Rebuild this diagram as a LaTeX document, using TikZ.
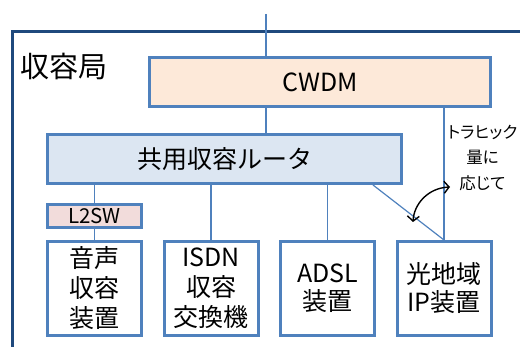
\documentclass[tikz,border=0pt]{standalone}
\usepackage{fontspec}
\setmainfont{Noto Sans CJK JP}
\newfontfamily\notefont{Noto Sans CJK JP}[RawFeature=+palt]
\usetikzlibrary{arrows.meta}
\definecolor{edgeblue}{HTML}{4F81BD}
\definecolor{framenavy}{HTML}{1F497D}
\definecolor{peach}{HTML}{FDE9D9}
\definecolor{paleblue}{HTML}{DCE6F2}
\definecolor{palepink}{HTML}{F2DCDB}

\begin{document}
\begin{tikzpicture}[
    x=1pt, y=-1pt,
    node distance=116.5pt,
    unit/.style={draw=edgeblue, line width=3pt, rectangle, inner sep=0pt, text=black},
    equip/.style={unit, fill=white, minimum width=94pt, minimum height=94pt, align=center, font=\fontsize{25}{30}\selectfont},
    link/.style={draw=edgeblue, line width=1.2pt},
    swing/.style={{Straight Barb[length=5pt,width=12pt]}-{Straight Barb[length=5pt,width=12pt]}, line width=1.4pt}
]
    \useasboundingbox (0,0) rectangle (520,347);
    \clip (0,0) rectangle (520,347);

    % Office frame and its title
    \draw[framenavy, line width=3pt] (12,365) |- (535,32);
    \node[anchor=west, font=\fontsize{29}{30}\selectfont] (office) at (17,66) {収容局};

    % Place nodes
    \node[unit, fill=peach, minimum width=341pt, minimum height=49pt, font=\fontsize{25}{30}\selectfont] (cwdm) at (320,82) {CWDM};
    \node[unit, fill=paleblue, minimum width=354pt, minimum height=49pt, font=\fontsize{25}{30}\selectfont] (router) at (224.5,159) {共用収容ルータ};
    \node[equip] (voice) at (94.5,288.5) {音声\\収容\\装置};
    \node[equip, right of=voice] (isdn) {ISDN\\収容\\交換機};
    \node[equip, right of=isdn, font=\fontsize{25}{28}\selectfont] (adsl) {ADSL\\装置};
    \node[equip, right of=adsl, font=\fontsize{25}{28}\selectfont] (optical) {光地域\\IP装置};
    \node[unit, fill=palepink, minimum width=94pt, minimum height=23pt, font=\fontsize{20.5}{22}\selectfont] (l2sw) at (94.5,216) {L2SW};
    \node[align=center, inner sep=0pt, font=\notefont\fontsize{16.5}{25.5}\selectfont] (note) at (482.5,158) {トラヒック\\量に\\応じて};

    % Free ends
    \coordinate (uplink) at (266,14);
    \coordinate (swingA) at (413,222);
    \coordinate (swingB) at (450,187);

    % Add connections
    \draw[link] (uplink) -- (uplink |- cwdm.north);
    \draw[link] (cwdm.south -| uplink) -- (router.north -| uplink);
    \draw[link] (router.south -| l2sw) -- (l2sw);
    \draw[link] (l2sw) -- (voice);
    \draw[link] (router.south -| isdn) -- (isdn);
    \draw[link] (router.south -| adsl) -- (adsl);
    \draw[link] ([xshift=-30pt]router.south east) -- (optical.north);
    \draw[link] (cwdm.south -| optical) -- (optical);
    \draw[swing] (swingA) .. controls (414,204) and (428,188) .. (swingB);
\end{tikzpicture}
\end{document}
